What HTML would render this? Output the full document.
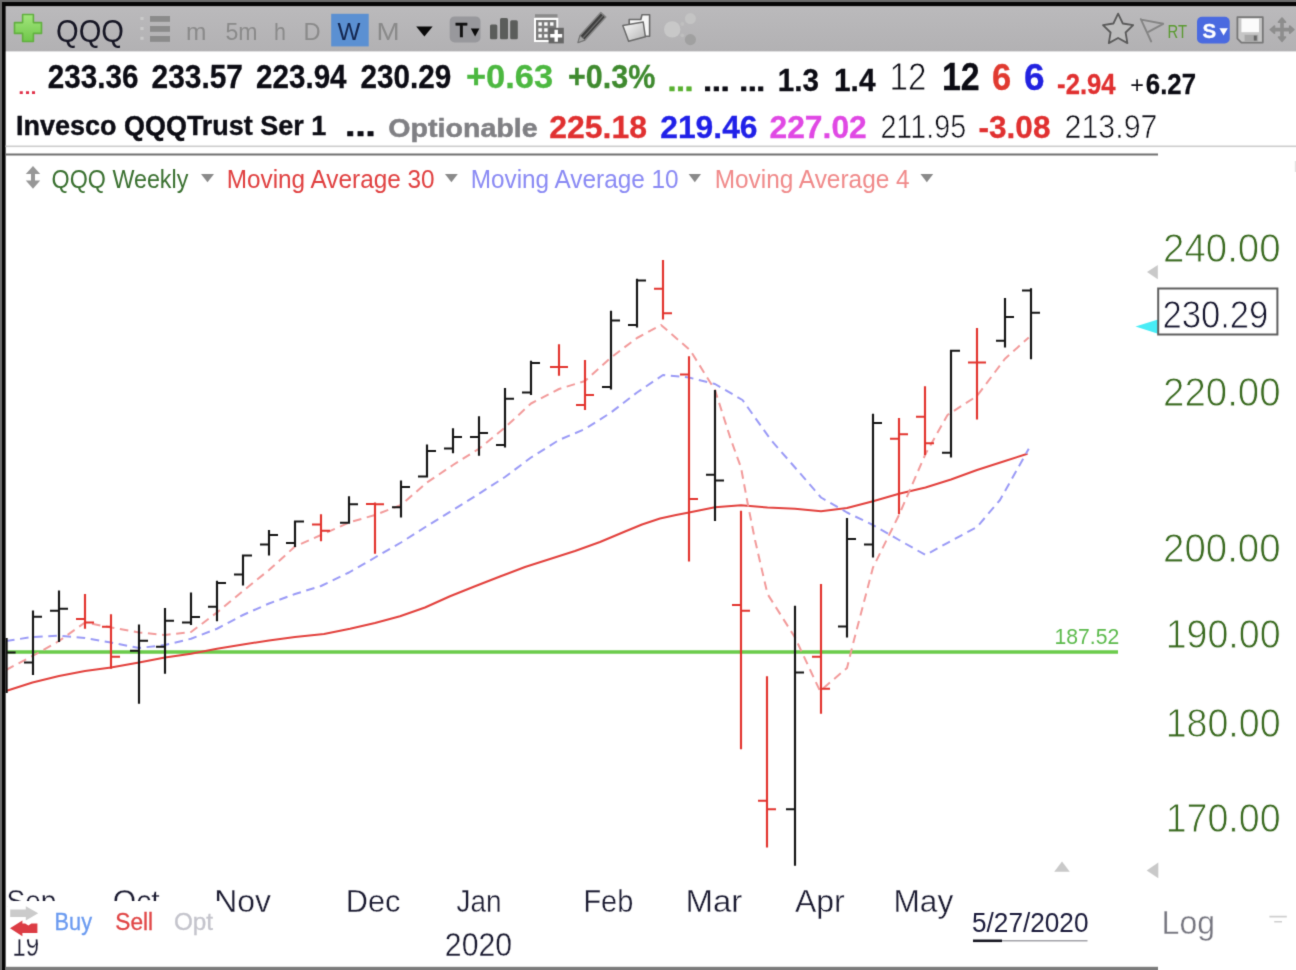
<!DOCTYPE html>
<html lang="en"><head><meta charset="utf-8"><title>QQQ Weekly</title>
<style>html,body{margin:0;padding:0;background:#fff}body{width:1296px;height:970px;overflow:hidden;font-family:"Liberation Sans", sans-serif}svg{display:block}</style></head><body>
<svg width="1296" height="970" viewBox="0 0 1296 970" font-family='"Liberation Sans", sans-serif'>
<defs><linearGradient id="tb" x1="0" y1="0" x2="0" y2="1"><stop offset="0" stop-color="#bbbabc"/><stop offset="1" stop-color="#b2b1b3"/></linearGradient><filter id="soft" x="0" y="0" width="100%" height="100%" color-interpolation-filters="sRGB"><feConvolveMatrix order="3" kernelMatrix="0.0169 0.0962 0.0169 0.0962 0.5476 0.0962 0.0169 0.0962 0.0169" divisor="1" edgeMode="duplicate" preserveAlpha="true"/></filter></defs>
<g filter="url(#soft)">
<rect x="-5" y="-5" width="1306" height="980" fill="#fff"/>
<rect x="5" y="5" width="1296" height="46.4" fill="url(#tb)"/>
<rect x="-5" y="-5" width="1306" height="7" fill="#6c6c6c"/>
<rect x="-5" y="-5" width="7" height="980" fill="#6c6c6c"/>
<rect x="2" y="2" width="1300" height="4.1" fill="#060606"/>
<rect x="2" y="2" width="3.6" height="975" fill="#060606"/>
<rect x="5.5" y="145.5" width="1295" height="1.6" fill="#cdcdcd"/>
<rect x="5.5" y="153.5" width="1152.5" height="2" fill="#707070"/>
<rect x="5.5" y="966.8" width="1152.5" height="6" fill="#7c7c7c"/>
<defs><linearGradient id="gp" x1="0" y1="0" x2="0" y2="1"><stop offset="0" stop-color="#a2e57c"/><stop offset="1" stop-color="#6fc64a"/></linearGradient></defs>
<path d="M22.6 14.5h10.8v8.1h8.1v10.8h-8.1v8.1h-10.8v-8.1h-8.1v-10.8h8.1z" fill="url(#gp)" stroke="#62b040" stroke-width="1.6" stroke-linejoin="round"/>
<g fill="#8b8b8b"><rect x="150" y="16" width="20" height="5.8"/><rect x="150" y="26" width="20" height="5.8"/><rect x="150" y="36" width="20" height="5.8"/></g>
<g fill="#cacaca"><rect x="140.4" y="17" width="3.2" height="3"/><rect x="140.4" y="27" width="3.2" height="3"/><rect x="140.4" y="36.8" width="3.2" height="3"/></g>
<rect x="331.2" y="13.8" width="37.5" height="32.6" fill="#5b90d2"/>
<path d="M416.2 26.4h16.4l-8.2 10z" fill="#0a0a0a"/>
<rect x="449.7" y="16.4" width="30.8" height="26" rx="5" fill="#98989c"/>
<path d="M470.8 28.4h8.6l-4.3 8z" fill="#0a0a0a"/>
<g fill="#5b5d5b"><rect x="490" y="24.5" width="7.3" height="14.8" rx="1.5"/><rect x="500" y="18" width="8" height="21.3" rx="1.5"/><rect x="510.2" y="20.2" width="7.6" height="19.1" rx="1.5"/></g>
<rect x="535" y="14.2" width="22.5" height="3" fill="#8a8a8a"/>
<rect x="535" y="19" width="22.3" height="22" fill="#7c7c7c" stroke="#fff" stroke-width="2"/>
<g fill="#fff"><rect x="538.4" y="22.3" width="3.4" height="3.4"/><rect x="538.4" y="28.3" width="3.4" height="3.4"/><rect x="538.4" y="34.2" width="3.4" height="3.4"/><rect x="544.2" y="22.3" width="3.4" height="3.4"/><rect x="544.2" y="28.3" width="3.4" height="3.4"/><rect x="544.2" y="34.2" width="3.4" height="3.4"/><rect x="550.1" y="22.3" width="3.4" height="3.4"/><rect x="550.1" y="28.3" width="3.4" height="3.4"/><rect x="550.1" y="34.2" width="3.4" height="3.4"/></g>
<rect x="548.6" y="27.8" width="15.2" height="15.6" fill="#666"/>
<path d="M556.2 29.8v12M550.2 35.8h12" stroke="#fff" stroke-width="3.4" fill="none"/>
<path d="M578 42.6l2-7 20.8-23 5 4.4-20.8 23z" fill="#3e3e3e" stroke="#858585" stroke-width="1.5" stroke-linejoin="round"/>
<path d="M583.2 37.6l20-22.2" stroke="#6e6e6e" stroke-width="1.2" fill="none"/>
<path d="M578 42.6l2-7 5 4.4z" fill="#a4a4a4" stroke="#6a6a6a" stroke-width="0.8"/>
<defs><linearGradient id="fd" x1="0" y1="0" x2="1" y2="1"><stop offset="0" stop-color="#fafafa"/><stop offset="1" stop-color="#b4b4b4"/></linearGradient></defs>
<path d="M629.2 19.5h11.6l1.2-4.8h7.6v21.6h-20.4z" fill="#f6f6f6" stroke="#6a6a6a" stroke-width="1.6" stroke-linejoin="round"/>
<path d="M622.8 25.6l20.4-3.6 2.2 14.8-16.8 4.4z" fill="url(#fd)" stroke="#6a6a6a" stroke-width="1.5" stroke-linejoin="round"/>
<circle cx="672.2" cy="29.4" r="8.2" fill="#c8c8c8"/><circle cx="690.4" cy="18.6" r="5.5" fill="#c4c4c4"/><circle cx="690.4" cy="39.6" r="5.6" fill="#a0a0a0"/><circle cx="682.3" cy="24" r="1.9" fill="#bfbfbf"/><circle cx="682.3" cy="35.3" r="1.9" fill="#bfbfbf"/>
<path d="M1118.1 13.6l4.7 9.9 10.4 1.6-7.6 7.4 1.8 10.6-9.3-5.1-9.3 5.1 1.8-10.6-7.6-7.4 10.4-1.6z" fill="#bdbdbd" stroke="#5a5a5a" stroke-width="1.8" stroke-linejoin="round"/>
<path d="M1140.8 19.1l10.4 22.4M1141.2 19.6l22 4.2-14.8 8" fill="none" stroke="#848484" stroke-width="1.9" stroke-linejoin="round" stroke-linecap="round"/>
<rect x="1197" y="16.7" width="32.7" height="26.8" rx="5" fill="#4a6ae0"/>
<path d="M1219.4 28.2h8.4l-4.2 7.4z" fill="#fff"/>
<path d="M1237.4 17.2h25.4v25.4h-21.4l-4-4z" fill="#c6c6c6" stroke="#777" stroke-width="1.8" stroke-linejoin="round"/>
<rect x="1241.4" y="18.6" width="17.6" height="13.6" fill="#fbfbfb"/>
<rect x="1244.6" y="34.8" width="13.6" height="6.8" fill="#a8a8a8"/><rect x="1253.8" y="35.6" width="3" height="5" fill="#666"/>
<g stroke="#8d8d8d" stroke-width="3.6" fill="#8d8d8d" stroke-linejoin="round"><path d="M1273.5 29.6h17M1282 21v17.4" fill="none"/><path d="M1282 18.2l3.4 4h-6.8zM1282 41.2l3.4-4h-6.8zM1270.4 29.6l4-3.4v6.8zM1293.8 29.6l-4-3.4v6.8z" stroke-width="1.8"/></g>
<g id="chart">
<path d="M6 652H1118" stroke="#6acb4a" stroke-width="3.6" fill="none"/>
<polyline points="6,691 32.5,682.5 59,676 85,671 111,667.5 139,662.5 165,657.5 191,653.75 217,648.75 243,644.5 269,640.5 295,637 324,634 350,628.75 375,623 400,616.25 425,607.5 450,596.25 475,586.25 500,576.5 525,567 550,559 575,551 600,542 625,531.5 642,524.5 660,518.5 676,515 689,512.5 715,507.2 741,505.3 767.5,507.5 795,508.75 821,511.25 847,508 873,501.25 899,493.75 925.5,487.5 951,479.5 977,470 1005,461 1027.5,453.75" fill="none" stroke="#e2403c" stroke-width="2" stroke-linejoin="round"/>
<polyline points="6,641 32.5,637 59,635.75 85,638 111,642.5 139,648 165,645 191,638.75 217,628.75 243,615 269,603.5 295,594 321,586 349,572.5 375,557.5 401,542.5 427,526 453,510 479,493.75 505,477 531,457.5 559,440 585,429 611,412.5 637,392.5 663,375 689,377.5 715,384 742.5,400 771,440 795,467.5 821,497.5 847,512.5 873,525 899,540 925.5,555 951,541 977,527 1000,500 1028.75,448.75" fill="none" stroke="#9a9af6" stroke-width="2" stroke-dasharray="8.6 5.6" stroke-linejoin="round"/>
<polyline points="6,670 32.5,656 59,641 85,622.5 111,627.5 139,632.5 165,635 191,632 217,612.5 243,591 269,570 295,546.5 321,535 349,522.5 375,515 401,505 427,482.5 453,465 479,448.75 505,427.5 531,403.5 559,389 585,381 611,357.5 637,338 661,325 690,350 715,390 731,440 741,467.5 747.5,502.5 755,540 767.5,594 795,637.5 820,691 847,668 854,640 873,567.5 899,515 925.5,454 947.5,415 977,396 1005,358.75 1028.75,337.5" fill="none" stroke="#f29a9a" stroke-width="2" stroke-dasharray="8.6 5.6" stroke-linejoin="round"/>
<path d="M6.6 638V693M5.6 652.5H15.6M33 610.5V675M24 662.5H34M32 616.75H42M59 590.5V642M50 610.75H60M58 608.75H68M139 624.5V703.75M130 650.75H140M138 640.75H148M165 608V673.75M156 646.75H166M164 620.75H174M191 592.5V625M182 622.5H192M190 617H200M217 580.75V621.25M208 606.75H218M216 583H226M243 554.5V585.5M234 574.5H244M242 555.5H252M269 530V555.5M260 544.5H270M268 535H278M295 520.75V547M286 543H296M294 521.5H304M349 496.25V523.75M340 522.75H350M348 504.25H358M401 480.5V517.5M392 507.25H402M400 487H410M427 444.5V477.5M418 476.5H428M426 451H436M453 428.25V453.25M444 448.5H454M452 437H462M479 416.25V455.75M470 437H480M478 433H488M505 388V447.5M496 445H506M504 398.75H514M531 360.75V395M522 392.5H532M530 363H540M611 310.75V389.5M602 387H612M610 320.5H620M637 278.75V327.5M628 325H638M636 280.5H646M715 390V521M706 474.75H716M714 480.5H724M795 605.75V865.75M786 809.25H796M794 672.5H804M847 518V637.5M838 626.5H848M846 539H856M873 413.75V557.5M864 544.5H874M872 423H882M951 350V457.5M942 452.75H952M950 350.75H960M1005 298V347.5M996 340.75H1006M1004 317H1014M1031 288.25V359.25M1022 290.5H1032M1030 312.75H1040" stroke="#141414" stroke-width="2.15" fill="none"/>
<path d="M85 594V628.75M76 619H86M84 622.5H94M111 614.25V668.75M102 626.75H112M110 656.75H120M321 514.25V541.25M312 524.5H322M320 530.75H330M375 502.5V553.75M366 504H376M374 504.25H384M559 344.25V375.75M550 367H560M558 367H568M585 360V410M576 405H586M584 395H594M663 260V319.5M654 288.75H664M662 313.25H672M689 356.25V561.5M680 374.5H690M688 499H698M741 510.75V749.25M732 605H742M740 610.75H750M767 676.25V847.5M758 800.75H768M766 809.25H776M821 584V713.75M812 656.75H822M820 688.75H830M899 418V514.25M890 438.75H900M898 434.25H908M925 386.25V455M916 416.75H926M924 443.25H934M977 328V419.5M968 362.5H978M976 362.5H986" stroke="#e2342e" stroke-width="2.15" fill="none"/>
</g>
<path d="M33 166l7.2 8h-5.2v6.6h5.2l-7.2 8.2-7.2-8.2h5.2v-6.6h-5.2z" fill="#979797"/>
<path d="M201 173.9h13l-6.5 8.4z" fill="#8a8a8a"/>
<path d="M445 173.9h12.8l-6.4 8.4z" fill="#8a8a8a"/>
<path d="M688.6 173.9h12.4l-6.2 8.4z" fill="#8a8a8a"/>
<path d="M920.5 173.9h12.7l-6.35 8.4z" fill="#8a8a8a"/>
<path d="M1157.8 265v14.2l-10.8-7.1z" fill="#c9c9c9"/>
<path d="M1135.5 326.6l22.5-7.2v14.4z" fill="#48ecf6"/>
<rect x="1158.2" y="288.5" width="119.2" height="46" fill="#fff" stroke="#5e5e5e" stroke-width="2"/>
<path d="M1062 861.6l7.8 10.2h-15.6z" fill="#c9c9c9"/>
<path d="M1158.3 862.6v15.6l-11.6-7.8z" fill="#c9c9c9"/>
<path d="M1269.4 916.6h17.4M1274.2 921.8h7.8" stroke="#cfcfcf" stroke-width="1.6" fill="none"/>
<rect x="1294.8" y="161" width="2" height="11" fill="#e2e2e2"/>
<path d="M1002 940.8H1087.5" stroke="#a2a2a8" stroke-width="1.4" fill="none"/>
<path d="M973 940.8H1002" stroke="#15151f" stroke-width="2.6" fill="none"/>
<text x="56.06" y="41.6" font-size="31" fill="#161624" textLength="67.99" lengthAdjust="spacingAndGlyphs">QQQ</text>
<text x="186" y="39.5" font-size="24.5" fill="#8a8a8a" textLength="20.41" lengthAdjust="spacingAndGlyphs">m</text>
<text x="225.5" y="39.5" font-size="24.5" fill="#8a8a8a" textLength="32.08" lengthAdjust="spacingAndGlyphs">5m</text>
<text x="274.12" y="39.5" font-size="24.5" fill="#8a8a8a" textLength="11.92" lengthAdjust="spacingAndGlyphs">h</text>
<text x="303.57" y="39.5" font-size="24.5" fill="#8a8a8a" textLength="17.1" lengthAdjust="spacingAndGlyphs">D</text>
<text x="337.5" y="39.5" font-size="24.5" fill="#14264f" textLength="22.88" lengthAdjust="spacingAndGlyphs">W</text>
<text x="376.49" y="39.5" font-size="24.5" fill="#8a8a8a" textLength="23.11" lengthAdjust="spacingAndGlyphs">M</text>
<text x="1167.5" y="37.5" font-size="18.5" fill="#5a9a30" textLength="19.44" lengthAdjust="spacingAndGlyphs">RT</text>
<text x="455.5" y="37" font-size="21" font-weight="700" stroke="#111" stroke-width="0.3" fill="#111" textLength="11.84" lengthAdjust="spacingAndGlyphs">T</text>
<text x="1202.5" y="38.3" font-size="20" font-weight="700" stroke="#fff" stroke-width="0.3" fill="#fff" textLength="13.65" lengthAdjust="spacingAndGlyphs">S</text>
<text x="18.36" y="94.3" font-size="19" font-weight="700" stroke="#e03048" stroke-width="0.01" fill="#e03048" textLength="18.11" lengthAdjust="spacingAndGlyphs">...</text>
<text x="47.84" y="87.8" font-size="32.5" font-weight="700" stroke="#0c0c14" stroke-width="0.3" fill="#0c0c14" textLength="90.64" lengthAdjust="spacingAndGlyphs">233.36</text>
<text x="151.58" y="87.8" font-size="32.5" font-weight="700" stroke="#0c0c14" stroke-width="0.3" fill="#0c0c14" textLength="91.41" lengthAdjust="spacingAndGlyphs">233.57</text>
<text x="256.09" y="87.8" font-size="32.5" font-weight="700" stroke="#0c0c14" stroke-width="0.3" fill="#0c0c14" textLength="90.48" lengthAdjust="spacingAndGlyphs">223.94</text>
<text x="360.59" y="87.8" font-size="32.5" font-weight="700" stroke="#0c0c14" stroke-width="0.3" fill="#0c0c14" textLength="90.64" lengthAdjust="spacingAndGlyphs">230.29</text>
<text x="465.94" y="87.8" font-size="32.5" font-weight="700" stroke="#4cb840" stroke-width="0.3" fill="#4cb840" textLength="87.2" lengthAdjust="spacingAndGlyphs">+0.63</text>
<text x="568.06" y="87.8" font-size="32.5" font-weight="700" stroke="#3f8a2f" stroke-width="0.3" fill="#3f8a2f" textLength="87.34" lengthAdjust="spacingAndGlyphs">+0.3%</text>
<text x="667.66" y="91.2" font-size="28" font-weight="700" stroke="#58b030" stroke-width="0.7" fill="#58b030" textLength="25.54" lengthAdjust="spacingAndGlyphs">...</text>
<text x="703.38" y="91.2" font-size="28" font-weight="700" stroke="#0c0c14" stroke-width="0.7" fill="#0c0c14" textLength="26.11" lengthAdjust="spacingAndGlyphs">...</text>
<text x="739.41" y="91.2" font-size="28" font-weight="700" stroke="#0c0c14" stroke-width="0.7" fill="#0c0c14" textLength="25.54" lengthAdjust="spacingAndGlyphs">...</text>
<text x="777.79" y="91.3" font-size="31" font-weight="700" stroke="#0c0c14" stroke-width="0.3" fill="#0c0c14" textLength="41.19" lengthAdjust="spacingAndGlyphs">1.3</text>
<text x="834.04" y="91.3" font-size="31" font-weight="700" stroke="#0c0c14" stroke-width="0.3" fill="#0c0c14" textLength="41.48" lengthAdjust="spacingAndGlyphs">1.4</text>
<text x="889.55" y="90" font-size="39" stroke="#fff" stroke-width="0.82" fill="#0c0c14" textLength="36.89" lengthAdjust="spacingAndGlyphs">12</text>
<text x="941.96" y="89.8" font-size="38" font-weight="700" stroke="#0c0c14" stroke-width="0.3" fill="#0c0c14" textLength="37.8" lengthAdjust="spacingAndGlyphs">12</text>
<text x="992.08" y="89.6" font-size="37.5" font-weight="700" stroke="#e03a30" stroke-width="0.3" fill="#e03a30" textLength="19.21" lengthAdjust="spacingAndGlyphs">6</text>
<text x="1024.01" y="89.6" font-size="37.5" font-weight="700" stroke="#2222e0" stroke-width="0.3" fill="#2222e0" textLength="20.58" lengthAdjust="spacingAndGlyphs">6</text>
<text x="1057.11" y="94" font-size="29" font-weight="700" stroke="#e03030" stroke-width="0.3" fill="#e03030" textLength="58.5" lengthAdjust="spacingAndGlyphs">-2.94</text>
<text x="1130.18" y="93.2" font-size="23" fill="#0c0c14" textLength="13.66" lengthAdjust="spacingAndGlyphs">+</text>
<text x="1145.84" y="94.3" font-size="30" font-weight="700" stroke="#0c0c14" stroke-width="0.3" fill="#0c0c14" textLength="50.15" lengthAdjust="spacingAndGlyphs">6.27</text>
<text x="16.02" y="135" font-size="27.5" font-weight="700" stroke="#0c0c14" stroke-width="0.4" fill="#0c0c14" textLength="310.27" lengthAdjust="spacingAndGlyphs">Invesco QQQTrust Ser 1</text>
<text x="345.33" y="136.2" font-size="30" font-weight="700" stroke="#0c0c14" stroke-width="0.7" fill="#0c0c14" textLength="30.29" lengthAdjust="spacingAndGlyphs">...</text>
<text x="388.36" y="136.5" font-size="25" font-weight="700" stroke="#808084" stroke-width="0.5" fill="#808084" textLength="149.28" lengthAdjust="spacingAndGlyphs">Optionable</text>
<text x="549.23" y="137.6" font-size="31.5" font-weight="700" stroke="#e03030" stroke-width="0.3" fill="#e03030" textLength="97.79" lengthAdjust="spacingAndGlyphs">225.18</text>
<text x="660.24" y="137.6" font-size="31.5" font-weight="700" stroke="#2020e8" stroke-width="0.3" fill="#2020e8" textLength="97.28" lengthAdjust="spacingAndGlyphs">219.46</text>
<text x="769.49" y="137.6" font-size="31.5" font-weight="700" stroke="#e048e4" stroke-width="0.3" fill="#e048e4" textLength="97.28" lengthAdjust="spacingAndGlyphs">227.02</text>
<text x="880.38" y="137.6" font-size="33" stroke="#fff" stroke-width="0.69" fill="#0c0c14" textLength="85.8" lengthAdjust="spacingAndGlyphs">211.95</text>
<text x="978.5" y="137.6" font-size="31.5" font-weight="700" stroke="#e03030" stroke-width="0.3" fill="#e03030" textLength="72.02" lengthAdjust="spacingAndGlyphs">-3.08</text>
<text x="1064.58" y="137.6" font-size="33" stroke="#fff" stroke-width="0.69" fill="#0c0c14" textLength="92.92" lengthAdjust="spacingAndGlyphs">213.97</text>
<text x="51.62" y="188.2" font-size="26.5" fill="#3a7030" textLength="136.72" lengthAdjust="spacingAndGlyphs">QQQ Weekly</text>
<text x="226.67" y="188.2" font-size="26.5" fill="#e04040" textLength="208" lengthAdjust="spacingAndGlyphs">Moving Average 30</text>
<text x="470.67" y="188.2" font-size="26.5" fill="#8a8af4" textLength="208" lengthAdjust="spacingAndGlyphs">Moving Average 10</text>
<text x="714.67" y="188.2" font-size="26.5" fill="#f08a8a" textLength="195.01" lengthAdjust="spacingAndGlyphs">Moving Average 4</text>
<text x="1163.08" y="261.5" font-size="40" stroke="#fff" stroke-width="0.84" fill="#3a6a20" textLength="117.52" lengthAdjust="spacingAndGlyphs">240.00</text>
<text x="1163.08" y="406" font-size="40" stroke="#fff" stroke-width="0.84" fill="#3a6a20" textLength="117.52" lengthAdjust="spacingAndGlyphs">220.00</text>
<text x="1163.08" y="562.1" font-size="40" stroke="#fff" stroke-width="0.84" fill="#3a6a20" textLength="117.52" lengthAdjust="spacingAndGlyphs">200.00</text>
<text x="1165.68" y="647.9" font-size="40" stroke="#fff" stroke-width="0.84" fill="#3a6a20" textLength="114.89" lengthAdjust="spacingAndGlyphs">190.00</text>
<text x="1165.68" y="737.3" font-size="40" stroke="#fff" stroke-width="0.84" fill="#3a6a20" textLength="114.89" lengthAdjust="spacingAndGlyphs">180.00</text>
<text x="1165.68" y="831.9" font-size="40" stroke="#fff" stroke-width="0.84" fill="#3a6a20" textLength="114.89" lengthAdjust="spacingAndGlyphs">170.00</text>
<text x="1162.42" y="328" font-size="39.5" stroke="#fff" stroke-width="0.83" fill="#14142c" textLength="105.93" lengthAdjust="spacingAndGlyphs">230.29</text>
<text x="1054.46" y="644" font-size="22.5" fill="#5cba4c" textLength="64.72" lengthAdjust="spacingAndGlyphs">187.52</text>
<text x="1161.62" y="934.1" font-size="34" stroke="#fff" stroke-width="0.37" fill="#74747e" textLength="53.38" lengthAdjust="spacingAndGlyphs">Log</text>
<text x="214.22" y="911.6" font-size="31.5" stroke="#fff" stroke-width="0.35" fill="#1a1a30" textLength="56.77" lengthAdjust="spacingAndGlyphs">Nov</text>
<text x="345.8" y="911.6" font-size="31.5" stroke="#fff" stroke-width="0.35" fill="#1a1a30" textLength="54.68" lengthAdjust="spacingAndGlyphs">Dec</text>
<text x="456.5" y="911.6" font-size="31.5" stroke="#fff" stroke-width="0.35" fill="#1a1a30" textLength="45.1" lengthAdjust="spacingAndGlyphs">Jan</text>
<text x="583.41" y="911.6" font-size="31.5" stroke="#fff" stroke-width="0.35" fill="#1a1a30" textLength="49.81" lengthAdjust="spacingAndGlyphs">Feb</text>
<text x="685.4" y="911.6" font-size="31.5" stroke="#fff" stroke-width="0.35" fill="#1a1a30" textLength="56.86" lengthAdjust="spacingAndGlyphs">Mar</text>
<text x="795" y="911.6" font-size="31.5" stroke="#fff" stroke-width="0.35" fill="#1a1a30" textLength="49.75" lengthAdjust="spacingAndGlyphs">Apr</text>
<text x="893.49" y="911.6" font-size="31.5" stroke="#fff" stroke-width="0.35" fill="#1a1a30" textLength="59.76" lengthAdjust="spacingAndGlyphs">May</text>
<text x="444.85" y="955.8" font-size="33.5" stroke="#fff" stroke-width="0.37" fill="#1a1a30" textLength="67.22" lengthAdjust="spacingAndGlyphs">2020</text>
<text x="972.03" y="931.8" font-size="27" fill="#1a1a3a" textLength="116.45" lengthAdjust="spacingAndGlyphs">5/27/2020</text>
<g id="dates-under">
<text x="6.61" y="911.6" font-size="31.5" stroke="#fff" stroke-width="0.35" fill="#1a1a30" textLength="49.85" lengthAdjust="spacingAndGlyphs">Sep</text>
<text x="112.79" y="911.6" font-size="31.5" stroke="#fff" stroke-width="0.35" fill="#1a1a30" textLength="46.97" lengthAdjust="spacingAndGlyphs">Oct</text>
<text x="12.31" y="955.8" font-size="33.5" stroke="#fff" stroke-width="0.37" fill="#1a1a30" textLength="26.9" lengthAdjust="spacingAndGlyphs">19</text>
</g>
<rect x="8" y="901" width="212.4" height="38.4" fill="#fff"/>
<path d="M10.2 909.4h15.6v-3.2l12.4 7-12.4 7.2v-3.4h-15.6z" fill="#cbcbcb"/>
<path d="M37.4 923.4h-6l-3 2.2-3.2-2.2h-2.8v-3l-12.4 7.8 12.4 8v-3.2h15z" fill="#dc3c44"/>
<text x="54.55" y="929.5" font-size="23" stroke="#6a9af0" stroke-width="0.3" fill="#6a9af0" textLength="37.47" lengthAdjust="spacingAndGlyphs">Buy</text>
<text x="115.26" y="929.5" font-size="23" stroke="#e04444" stroke-width="0.3" fill="#e04444" textLength="37.83" lengthAdjust="spacingAndGlyphs">Sell</text>
<text x="173.94" y="929.5" font-size="23" stroke="#c4c4cc" stroke-width="0.3" fill="#c4c4cc" textLength="39.16" lengthAdjust="spacingAndGlyphs">Opt</text>
</g>
</svg></body></html>
